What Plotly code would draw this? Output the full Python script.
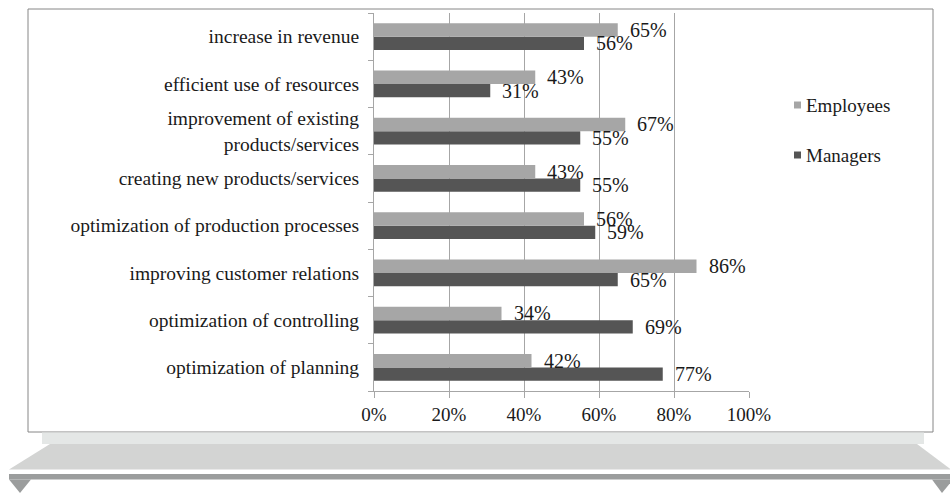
import plotly.graph_objects as go

# Survey results, listed top to bottom as they appear on the chart
categories = [
    "increase in revenue",
    "efficient use of resources",
    "improvement of existing<br>\u00a0\u00a0\u00a0\u00a0\u00a0products/services",
    "creating new products/services",
    "optimization of production processes",
    "improving customer relations",
    "optimization of controlling",
    "optimization of planning",
]
employees = [65, 43, 67, 43, 56, 86, 34, 42]
managers = [56, 31, 55, 55, 59, 65, 69, 77]
x_ticks = [0, 20, 40, 60, 80, 100]
x_tick_text = [f"{v}%" for v in x_ticks]

EMP_COLOR = "#a6a6a6"
MGR_COLOR = "#555555"
AXIS_COLOR = "#a6a6a6"
TEXT_COLOR = "#1a1a1a"
FONT = "Liberation Serif"

W, H = 950, 493
ML, MR, MT, MB = 374, 201, 13, 102
PW, PH = W - ML - MR, H - MT - MB


def px(x):
    return (x - ML) / PW


def py(y):
    return (H - MB - y) / PH


fig = go.Figure()
fig.add_trace(go.Bar(name="Managers", y=categories, x=managers, orientation="h",
                     marker=dict(color=MGR_COLOR, line=dict(width=0)), showlegend=False))
fig.add_trace(go.Bar(name="Employees", y=categories, x=employees, orientation="h",
                     marker=dict(color=EMP_COLOR, line=dict(width=0)), showlegend=False))

annotations = []
half = PH / len(categories) * (1 - 0.43) / 4
for cat, e, m in zip(categories, employees, managers):
    annotations.append(dict(x=e, y=cat, xref="x", yref="y", text=f"{e}%", showarrow=False,
                            xanchor="left", yanchor="middle", xshift=10, yshift=half,
                            font=dict(family=FONT, size=20, color=TEXT_COLOR)))
    annotations.append(dict(x=m, y=cat, xref="x", yref="y", text=f"{m}%", showarrow=False,
                            xanchor="left", yanchor="middle", xshift=10, yshift=-half,
                            font=dict(family=FONT, size=20, color=TEXT_COLOR)))

# Legend drawn as swatches and labels to the right of the plot
shapes = []
for name, color, yc in [("Employees", EMP_COLOR, 105), ("Managers", MGR_COLOR, 155)]:
    shapes.append(dict(type="rect", xref="paper", yref="paper",
                       x0=px(794), x1=px(801), y0=py(yc + 3.5), y1=py(yc - 3.5),
                       fillcolor=color, line=dict(width=0)))
    annotations.append(dict(x=px(804), y=py(yc), xref="paper", yref="paper", text=name,
                            showarrow=False, xanchor="left", yanchor="middle",
                            font=dict(family=FONT, size=19, color=TEXT_COLOR)))

# Chart frame
shapes.append(dict(type="rect", xref="paper", yref="paper", layer="below",
                   x0=px(28), x1=px(933), y0=py(432), y1=py(9),
                   line=dict(color="#868686", width=1), fillcolor="rgba(0,0,0,0)"))

# Shelf underneath the frame
shapes.append(dict(type="rect", xref="paper", yref="paper", layer="below",
                   x0=px(42), x1=px(924), y0=py(444), y1=py(432.5),
                   fillcolor="#e4e7e6", line=dict(width=0)))


def path(points):
    return "M " + " L ".join(f"{px(a)},{py(b)}" for a, b in points) + " Z"


shapes.append(dict(type="path", xref="paper", yref="paper", layer="below",
                   path=path([(50, 444), (917, 444), (951, 469.5), (9, 469.5)]),
                   fillcolor="#d3d4d3", line=dict(width=0)))
shapes.append(dict(type="rect", xref="paper", yref="paper", layer="below",
                   x0=px(9), x1=px(951), y0=py(479.5), y1=py(474),
                   fillcolor="#9b9d9d", line=dict(width=0)))
shapes.append(dict(type="path", xref="paper", yref="paper", layer="below",
                   path=path([(9, 479.5), (31, 479.5), (20, 493)]),
                   fillcolor="#9b9d9d", line=dict(width=0)))
shapes.append(dict(type="path", xref="paper", yref="paper", layer="below",
                   path=path([(932, 479.5), (953, 479.5), (942, 493)]),
                   fillcolor="#9b9d9d", line=dict(width=0)))

fig.update_layout(
    width=W, height=H,
    margin=dict(l=ML, r=MR, t=MT, b=MB),
    paper_bgcolor="white", plot_bgcolor="white",
    barmode="group", bargap=0.43, bargroupgap=0,
    font=dict(family=FONT, color=TEXT_COLOR),
    annotations=annotations, shapes=shapes,
    showlegend=False,
)
fig.update_xaxes(range=[0, 100], tickmode="array", tickvals=x_ticks, ticktext=x_tick_text,
                 showgrid=True, gridcolor=AXIS_COLOR, gridwidth=1, zeroline=False,
                 showline=True, linecolor=AXIS_COLOR, linewidth=1,
                 ticks="outside", ticklen=6, tickcolor=AXIS_COLOR,
                 tickfont=dict(family=FONT, size=19, color=TEXT_COLOR))
fig.update_yaxes(categoryorder="array", categoryarray=categories[::-1],
                 showgrid=False, zeroline=False,
                 showline=True, linecolor=AXIS_COLOR, linewidth=1,
                 ticks="outside", ticklen=5, tickcolor=AXIS_COLOR, tickson="boundaries",
                 ticklabelstandoff=10,
                 tickfont=dict(family=FONT, size=19.5, color=TEXT_COLOR))

fig.write_html("out.html")
